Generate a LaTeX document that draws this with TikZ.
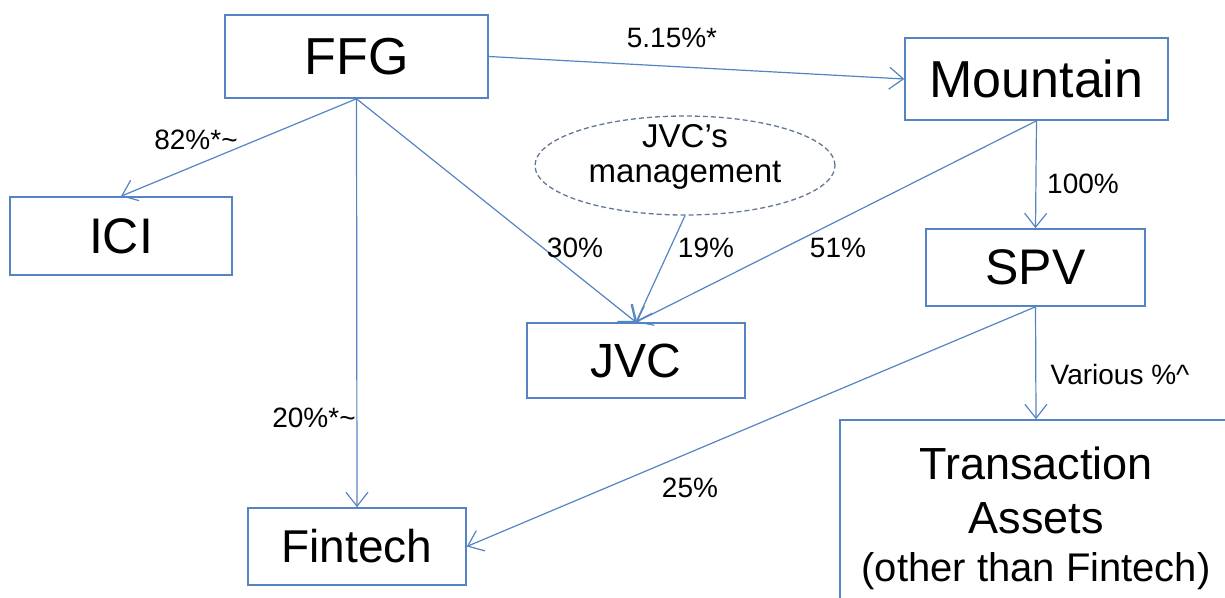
\documentclass[tikz,border=0pt]{standalone}
\usepackage{fontspec}
\setmainfont{Liberation Sans}
\usetikzlibrary{arrows.meta,shapes.geometric}
\definecolor{lineblue}{RGB}{86,132,194}
\definecolor{ellgray}{RGB}{100,120,150}
\tikzset{
  box/.style={draw=lineblue, line width=1.6pt, inner sep=0pt, align=center},
  conn/.style={draw=lineblue, line width=1.2pt, -{Straight Barb[length=14pt,width=22pt,line width=1.2pt]}},
  lab/.style={font=\fontsize{28}{30}\selectfont, inner sep=0pt}
}
\begin{document}
\begin{tikzpicture}[x=1pt,y=-1pt]
\useasboundingbox (0,0) rectangle (1225,597);
\clip (0,0) rectangle (1225,597);
\fill[white] (0,0) rectangle (1225,597);
% boxes
\node[box, minimum width=263pt, minimum height=83pt, font=\fontsize{52}{56}\selectfont] (FFG) at (356.5,56.5) {FFG};
\node[box, minimum width=263pt, minimum height=82pt, font=\fontsize{52}{56}\selectfont] (Mountain) at (1036.5,79) {Mountain};
\node[box, minimum width=222pt, minimum height=78pt, font=\fontsize{50}{52}\selectfont] (ICI) at (121,236) {ICI};
\node[box, minimum width=218pt, minimum height=75pt, font=\fontsize{48}{52}\selectfont] (JVC) at (636,360.5) {JVC};
\node[box, minimum width=219pt, minimum height=77pt, font=\fontsize{50}{52}\selectfont] (SPV) at (1035.5,267.5) {SPV};
\node[box, minimum width=218pt, minimum height=77pt, font=\fontsize{46}{50}\selectfont] (Fintech) at (357,546.5) {Fintech};
\node[box, minimum width=392pt, minimum height=200pt] (TA) at (1036,520)
  {\fontsize{45}{54}\selectfont\begin{tabular}{@{}c@{}}Transaction\\Assets\\[-6pt]\fontsize{40}{48}\selectfont (other than Fintech)\end{tabular}};
\node[draw=ellgray, dash pattern=on 5pt off 3pt, line width=1.3pt, ellipse, minimum width=300pt, minimum height=95pt, inner sep=0pt] (Mgmt) at (685,165.5)
  {\raisebox{8pt}[\height][\depth]{\fontsize{33}{35}\selectfont\begin{tabular}{@{}c@{}}JVC’s\\management\end{tabular}}};
% connectors
\draw[conn] (FFG.east) -- (Mountain.west);
\draw[conn] (FFG.south) -- (ICI.north);
\draw[conn] (FFG.south) -- (Fintech.north);
\draw[conn] (FFG.south) -- (JVC.north);
\draw[conn] (Mgmt.south) -- (JVC.north);
\draw[conn] (Mountain.south) -- (JVC.north);
\draw[conn] (Mountain.south) -- (SPV.north);
\draw[conn] (SPV.south) -- (TA.north);
\draw[conn] (SPV.south) -- (Fintech.east);
% labels
\node[lab] (l1) at (672,38) {5.15\%*};
\node[lab] (l2) at (196,140) {82\%*\textasciitilde};
\node[lab] (l3) at (314,418) {20\%*\textasciitilde};
\node[lab] (l4) at (575,248) {30\%};
\node[lab] (l5) at (706,248) {19\%};
\node[lab] (l6) at (838,248) {51\%};
\node[lab] (l7) at (1083,184) {100\%};
\node[lab] (l8) at (1120,374) {Various \%\textasciicircum};
\node[lab] (l9) at (690,488) {25\%};
\end{tikzpicture}
\end{document}
